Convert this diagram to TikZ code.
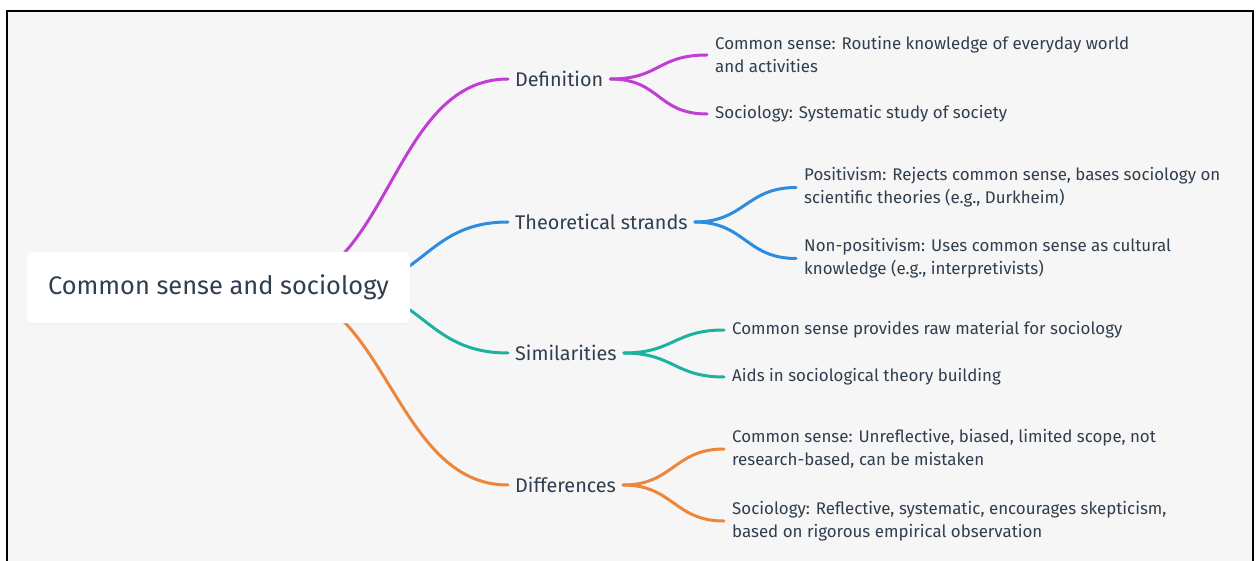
\documentclass[tikz,border=0pt]{standalone}
\usepackage{fontspec}
\setmainfont{Fira Sans}
\usetikzlibrary{backgrounds,shadows}

\definecolor{ink}{RGB}{48,62,78}
\definecolor{paper}{RGB}{246,246,246}
\definecolor{defcol}{RGB}{192,62,212}
\definecolor{theocol}{RGB}{46,140,224}
\definecolor{simcol}{RGB}{28,178,158}
\definecolor{difcol}{RGB}{236,134,58}

\tikzset{
	link/.style={line width=3pt,line cap=round},
	rootbox/.style={fill=white,rounded corners=6pt,minimum width=383pt,minimum height=71pt,
		text=ink,font=\fontsize{25.4}{28}\selectfont,
		drop shadow={opacity=0.06,shadow xshift=0pt,shadow yshift=-1pt}},
	topic/.style={anchor=west,inner xsep=7pt,inner ysep=2pt,text=ink,font=\fontsize{19.8}{22}\selectfont},
	leaf/.style={anchor=west,inner xsep=8pt,inner ysep=0pt,align=left,text=ink,font=\fontsize{16.9}{23}\selectfont}
}

\begin{document}
\begin{tikzpicture}[x=1pt,y=-1pt]
	\useasboundingbox (0,0) rectangle (1258,561);

	% central topic
	\node [rootbox] (root) at (218.5,287.5) {Common sense and sociology};
	\coordinate (hub) at (272,288);
	\coordinate (hubin) at (340,288);

	% main branches
	\node [topic] (def) at (508,79) {Definition};
	\node [topic] (theo) at (508,222) {Theoretical strands};
	\node [topic] (sim) at (508,353) {Similarities};
	\node [topic] (dif) at (508,485) {Differences};

	% leaves
	\node [leaf] (def1) at (707,55) {Common sense: Routine knowledge of everyday world\\and activities};
	\node [leaf] (def2) at (707,114) {Sociology: Systematic study of society};
	\node [leaf] (theo1) at (796,187.5) {Positivism: Rejects common sense, bases sociology on\\scientific theories (e.g., Durkheim)};
	\node [leaf] (theo2) at (796,258.5) {Non-positivism: Uses common sense as cultural\\knowledge (e.g., interpretivists)};
	\node [leaf] (sim1) at (724,330) {Common sense provides raw material for sociology};
	\node [leaf] (sim2) at (724,377) {Aids in sociological theory building};
	\node [leaf] (dif1) at (724,449) {Common sense: Unreflective, biased, limited scope, not\\research-based, can be mistaken};
	\node [leaf] (dif2) at (724,521) {Sociology: Reflective, systematic, encourages skepticism,\\based on rigorous empirical observation};

	\begin{scope}[on background layer]
		% canvas and frame
		\fill [paper] (7,11) rectangle (1253,561);
		\draw [line width=2.5pt] (7,561) -- (7,11) -- (1253,11) -- (1253,561);

		% root to branches
		\draw [link,defcol] (hub) .. controls +(118,0) and +(-118,0) .. (def.west);
		\draw [link,theocol] (hubin) .. controls +(84,0) and +(-84,0) .. (theo.west);
		\draw [link,simcol] (hubin) .. controls +(84,0) and +(-84,0) .. (sim.west);
		\draw [link,difcol] (hub) .. controls +(115,0) and +(-115,0) .. (dif.west);

		% branches to leaves
		\draw [link,defcol] (def.east) .. controls +(50,0) and +(-50,0) .. (def1.west);
		\draw [link,defcol] (def.east) .. controls +(50,0) and +(-50,0) .. (def2.west);
		\draw [link,theocol] (theo.east) .. controls +(50,0) and +(-50,0) .. (theo1.west);
		\draw [link,theocol] (theo.east) .. controls +(50,0) and +(-50,0) .. (theo2.west);
		\draw [link,simcol] (sim.east) .. controls +(50,0) and +(-50,0) .. (sim1.west);
		\draw [link,simcol] (sim.east) .. controls +(50,0) and +(-50,0) .. (sim2.west);
		\draw [link,difcol] (dif.east) .. controls +(50,0) and +(-50,0) .. (dif1.west);
		\draw [link,difcol] (dif.east) .. controls +(50,0) and +(-50,0) .. (dif2.west);
	\end{scope}
\end{tikzpicture}
\end{document}
